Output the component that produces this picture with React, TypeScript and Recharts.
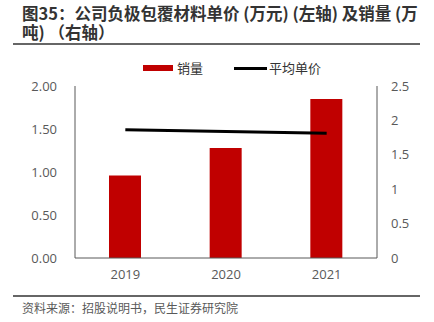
import { ComposedChart, Bar, Line, XAxis, YAxis } from "recharts";

const years = ["2019", "2020", "2021"];
const sales = [1.2, 1.6, 2.31]; // 销量 (万吨), right axis
const price = [1.49, 1.47, 1.45]; // 平均单价 (万元), left axis
const leftTicks = [0, 0.5, 1, 1.5, 2];
const rightTicks = [0, 0.5, 1, 1.5, 2, 2.5];

const data = years.map((y, i) => ({ year: y, sales: sales[i], price: price[i] }));

const font = "'Open Sans', 'Noto Sans CJK SC', sans-serif";
const axisColor = "#595959";

const titleStyle = {
  position: "absolute" as const,
  left: 22,
  fontSize: 16.5,
  fontWeight: 700,
  color: "#333",
  lineHeight: "18px",
  whiteSpace: "nowrap" as const
};

export default function App() {
  return (
    <div
      style={{
        position: "absolute",
        left: 0,
        top: 0,
        width: 434,
        height: 322,
        background: "#fff",
        fontFamily: "'Noto Sans CJK SC', sans-serif",
        overflow: "hidden"
      }}
    >
      {/* 标题 */}
      <div style={{ ...titleStyle, top: 4 }}>图35：公司负极包覆材料单价 (万元) (左轴) 及销量 (万</div>
      <div style={{ ...titleStyle, top: 23 }}>吨) （右轴）</div>
      <div style={{ position: "absolute", left: 13, top: 43, width: 407, height: 2, background: "#666" }} />

      {/* 图例 */}
      <div style={{ position: "absolute", left: 143, top: 65, width: 30, height: 6, background: "#C00000" }} />
      <div style={{ position: "absolute", left: 177, top: 58, fontSize: 13, color: "#333" }}>销量</div>
      <div style={{ position: "absolute", left: 234, top: 67, width: 33, height: 3, background: "#000" }} />
      <div style={{ position: "absolute", left: 269, top: 58, fontSize: 13, color: "#333" }}>平均单价</div>

      <div style={{ position: "absolute", left: 0, top: 0 }}>
        <ComposedChart
          width={434}
          height={290}
          data={data}
          margin={{ top: 86, right: 0, bottom: 0, left: 0 }}
        >
          <XAxis
            dataKey="year"
            height={32}
            tickLine={false}
            axisLine={{ stroke: axisColor }}
            tick={{ fill: axisColor, fontSize: 13, fontFamily: font }}
            tickSize={0}
            tickMargin={12}
          />
          <YAxis
            yAxisId="left"
            orientation="left"
            width={75}
            domain={[0, 2]}
            ticks={leftTicks}
            tickFormatter={(v: number) => v.toFixed(2)}
            tickLine={false}
            tickSize={0}
            tickMargin={18}
            axisLine={{ stroke: axisColor }}
            tick={{ fill: axisColor, fontSize: 13, fontFamily: font }}
          />
          <YAxis
            yAxisId="right"
            orientation="right"
            width={57}
            domain={[0, 2.5]}
            ticks={rightTicks}
            tickLine={false}
            tickSize={0}
            tickMargin={14}
            axisLine={{ stroke: axisColor }}
            tick={{ fill: axisColor, fontSize: 13, fontFamily: font, textAnchor: "start" }}
          />
          <Bar yAxisId="right" dataKey="sales" fill="#C00000" barSize={32} isAnimationActive={false} />
          <Line
            yAxisId="left"
            type="linear"
            dataKey="price"
            stroke="#000"
            strokeWidth={3}
            dot={false}
            isAnimationActive={false}
          />
        </ComposedChart>
      </div>

      {/* 资料来源 */}
      <div style={{ position: "absolute", left: 13, top: 295, width: 407, height: 2, background: "#666" }} />
      <div style={{ position: "absolute", left: 22, top: 299, fontSize: 12, color: "#595959", whiteSpace: "nowrap" }}>
        资料来源：招股说明书，民生证券研究院
      </div>
    </div>
  );
}
